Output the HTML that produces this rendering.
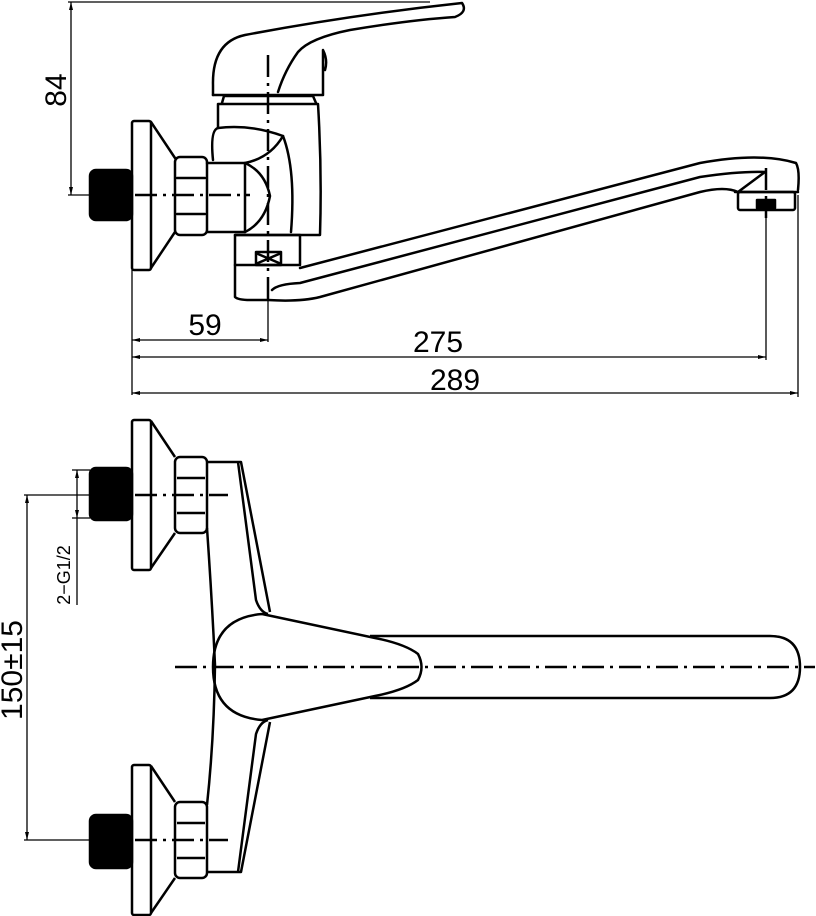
<!DOCTYPE html>
<html><head><meta charset="utf-8"><style>html,body{margin:0;padding:0;background:#fff}svg{display:block}</style></head>
<body>
<svg width="816" height="916" viewBox="0 0 816 916" xmlns="http://www.w3.org/2000/svg">
<g fill="none" stroke="#000" stroke-width="2.5" stroke-linejoin="round" stroke-linecap="round">
<!-- ===== TOP VIEW ===== -->
<rect x="90" y="170" width="42" height="50" rx="6" fill="#000"/>
<rect x="132" y="121" width="19" height="149" rx="2"/>
<path d="M151 122 L175 158 M151 268 L175 232"/>
<rect x="175" y="157" width="32" height="78" rx="5"/>
<path d="M177 178 H205 M177 214 H205"/>
<path d="M207 163 H245 V232 H207"/>
<path d="M245 163 Q265 172 270 196 Q265 222 245 232"/>
<path d="M213 160 Q210 130 218 128 Q250 124 283 136 Q270 158 245 163"/>
<path d="M283 136 Q296 170 291 232"/>
<path d="M218 128 V104 H318 Q322 170 320 235 H235"/>
<path d="M222 103 L224 96 H313 L316 103"/>
<path d="M213 95 V85 Q212 42 245 35 Q350 15 462 3 Q468 12 455 17 Q410 20 350 30 Q310 38 298 52 Q285 70 278 92"/>
<path d="M213 95 H323 V50 Q328 60 325 70"/>
<rect x="235" y="235" width="65" height="30"/>
<rect x="256" y="252" width="25" height="13"/>
<path d="M258 254 L279 263 M279 254 L258 263"/>
<path d="M235 265 V297 Q238 300 250 300 L268 300"/>
<!-- spout -->
<path d="M300 268 L700 163 Q760 152 796 163 Q800 170 798 190"/>
<path d="M272 290 Q278 284 300 283 L700 177 Q740 171 765 172"/>
<path d="M268 300 Q300 302 320 297 L700 192 Q725 186 738 192 L765 172"/>
<rect x="738" y="192" width="57" height="18" rx="2"/>
<rect x="757" y="200" width="18" height="8" fill="#000"/>
<path d="M735 192 H798"/>
</g>
<g stroke="#000" stroke-width="2.5" fill="none" stroke-dasharray="22 6 3 6">
<path d="M135 195 H250"/>
<path d="M268 55 V305"/>
<path d="M766 168 V218"/>
</g>
<g stroke="#000" stroke-width="1.3" fill="none">
<path d="M71 2 V195 M68 2 H430 M68 195 H90"/>
<path d="M132 270 V395 M268 300 V342 M766 210 V360 M798 195 V397"/>
<path d="M132 340 H268 M132 357 H766 M132 393 H798"/>
</g>
<g fill="#000">
<path d="M71 2 l-2 8 h4z M71 195 l-2 -8 h4z"/>
<path d="M132 340 l8 -2 v4z M268 340 l-8 -2 v4z M132 357 l8 -2 v4z M766 357 l-8 -2 v4z M132 393 l8 -2 v4z M798 393 l-8 -2 v4z"/>
</g>
<g font-family="'Liberation Sans', sans-serif" font-size="30" fill="#000" text-anchor="middle">
<text x="0" y="0" transform="translate(66,90) rotate(-90)">84</text>
<text x="205" y="335">59</text>
<text x="438" y="352">275</text>
<text x="455" y="390">289</text>
</g>

<!-- ===== BOTTOM VIEW ===== -->
<g fill="none" stroke="#000" stroke-width="2.5" stroke-linejoin="round">
<rect x="90" y="468" width="42" height="52" rx="6" fill="#000"/>
<rect x="132" y="420" width="19" height="150" rx="2"/>
<path d="M151 421 L175 457 M151 568 L175 533"/>
<rect x="175" y="457" width="32" height="76" rx="5"/>
<path d="M177 478 H205 M177 513 H205"/>

<rect x="90" y="815" width="42" height="53" rx="6" fill="#000"/>
<rect x="132" y="765" width="19" height="150" rx="2"/>
<path d="M151 766 L175 802 M151 913 L175 878"/>
<rect x="175" y="802" width="32" height="76" rx="5"/>
<path d="M177 823 H205 M177 858 H205"/>

<path d="M207 462 H241 L270 612 M238 462 L256 600 Q260 612 268 614"/>
<path d="M207 528 Q212 600 215 665 Q214 740 207 805"/>
<path d="M207 872 H241 L270 722 M238 872 L256 734 Q260 722 268 720"/>
<path d="M262 614 Q213 618 213 667 Q213 716 262 720 L375 696 Q405 690 418 680 Q425 667 418 654 Q405 644 375 638 Z"/>
<path d="M370 636 H770 Q800 636 800 667 Q800 698 770 698 H370"/>
</g>
<g stroke="#000" stroke-width="2.5" fill="none" stroke-dasharray="22 6 3 6">
<path d="M135 495 H228"/>
<path d="M135 840 H228"/>
<path d="M175 667 H815"/>
</g>
<g stroke="#000" stroke-width="1.3" fill="none">
<path d="M24 495 H90 M24 840 H90 M27 495 V840"/>
<path d="M72 470 H90 M72 518 H90 M77 470 V605"/>
</g>
<g fill="#000">
<path d="M27 495 l-2 8 h4z M27 840 l-2 -8 h4z M77 470 l-2 8 h4z M77 518 l-2 -8 h4z"/>
</g>
<g font-family="'Liberation Sans', sans-serif" fill="#000" text-anchor="middle">
<text x="0" y="0" font-size="30" transform="translate(22,670) rotate(-90)">150±15</text>
<text x="0" y="0" font-size="18" transform="translate(70,575) rotate(-90)">2−G1/2</text>
</g>
</svg>
</body></html>
